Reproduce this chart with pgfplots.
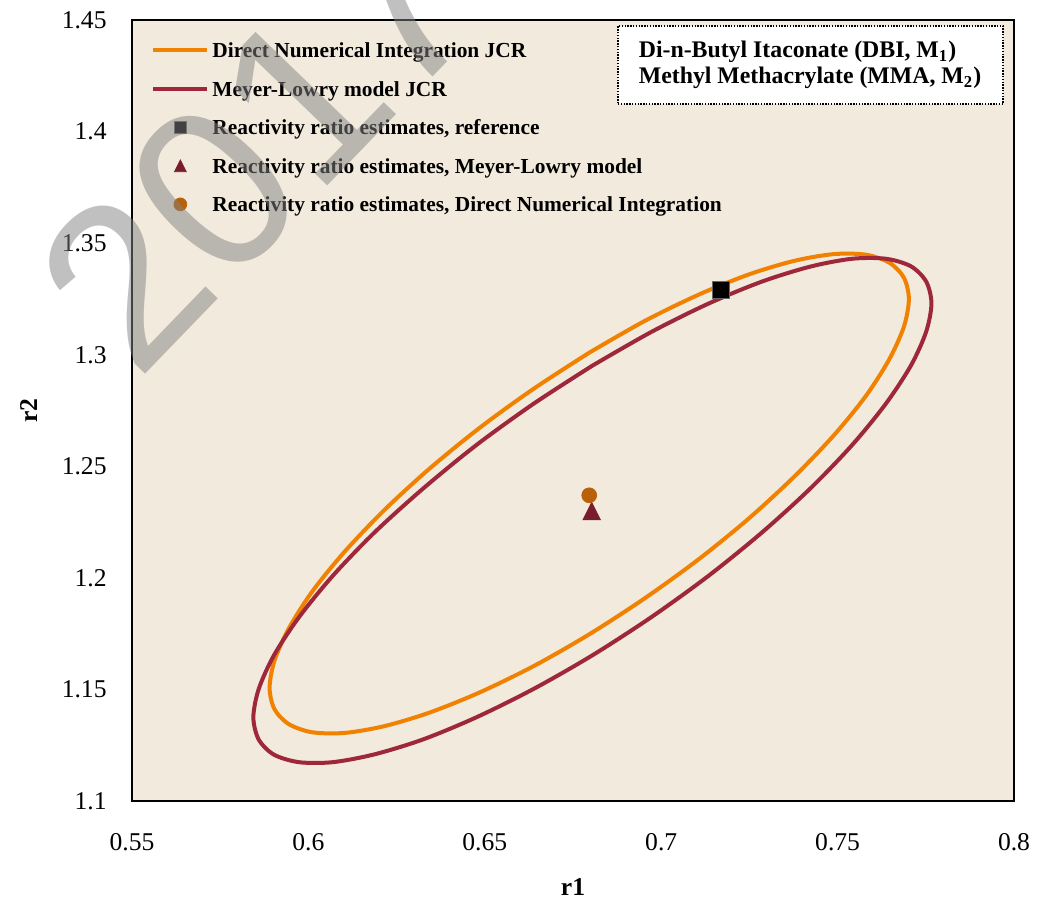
\documentclass[border=0pt]{standalone}
\usepackage{fontspec}
\setmainfont{Liberation Serif}
\newfontfamily\wmfont{Liberation Sans}
\usepackage{pgfplots}
\pgfplotsset{compat=1.18}
\definecolor{bgc}{RGB}{242,234,221}
\definecolor{dni}{RGB}{241,129,0}
\definecolor{mlc}{RGB}{158,40,58}
\definecolor{tric}{RGB}{122,29,42}
\definecolor{circc}{RGB}{184,96,10}
\definecolor{sqleg}{RGB}{64,64,64}
\definecolor{wmc}{RGB}{130,130,130}
\begin{document}
\begin{tikzpicture}
\begin{axis}[
  scale only axis, width=441pt, height=390.5pt,
  xmin=0.55, xmax=0.8, ymin=1.1, ymax=1.45,
  xtick={0.55,0.6,0.65,0.7,0.75,0.8},
  ytick={1.1,1.15,1.2,1.25,1.3,1.35,1.4,1.45},
  scaled ticks=false,
  major tick length=0pt,
  /pgf/number format/assume math mode=true,
  ticklabel style={font=\fontsize{12.8}{15}\selectfont, inner sep=0pt},
  xticklabel style={anchor=north, yshift=-16pt},
  yticklabel style={anchor=east, xshift=-12.5pt},
  axis line style={line width=1pt},
  axis background/.style={fill=bgc},
  xlabel={r1}, ylabel={r2},
  every axis x label/.style={at={(axis description cs:0.5,-0.1216)}, anchor=base,
    font=\fontsize{12.8}{15}\selectfont\bfseries},
  every axis y label/.style={at={(axis description cs:-0.1077,0.5)}, anchor=base, rotate=90,
    font=\fontsize{12.8}{15}\selectfont\bfseries},
  legend style={at={(axis description cs:0.0215,0.9752)}, anchor=north west, draw=none, fill=none,
    inner sep=0pt, row sep=8.65pt, column sep=1.5pt,
    font=\fontsize{10.7}{13}\selectfont\bfseries,
    nodes={inner sep=0pt, text height=9pt, text depth=1.6pt}},
  legend cell align=left,
]
% Direct Numerical Integration JCR
\addplot[dni, line width=2pt, smooth, legend image code/.code={\draw[dni, line width=2pt] (0pt,0pt) -- (27pt,0pt);}] coordinates {
(0.6796,1.3009) (0.6639,1.2848) (0.6486,1.2673) (0.6343,1.2489) (0.6214,1.2302)
(0.6102,1.2116) (0.6011,1.1939) (0.5945,1.1775) (0.5904,1.1630) (0.5890,1.1507)
(0.5904,1.1411) (0.5945,1.1344) (0.6011,1.1308) (0.6102,1.1305) (0.6214,1.1335)
(0.6343,1.1396) (0.6486,1.1487) (0.6639,1.1605) (0.6796,1.1747) (0.6953,1.1908)
(0.7106,1.2083) (0.7249,1.2267) (0.7378,1.2455) (0.7490,1.2640) (0.7581,1.2817)
(0.7647,1.2981) (0.7688,1.3126) (0.7702,1.3249) (0.7688,1.3345) (0.7647,1.3412)
(0.7581,1.3448) (0.7490,1.3451) (0.7378,1.3421) (0.7249,1.3360) (0.7106,1.3269)
(0.6953,1.3151) (0.6796,1.3009)};
\addlegendentry{Direct Numerical Integration JCR}
% Meyer-Lowry model JCR
\addplot[mlc, line width=2pt, smooth, legend image code/.code={\draw[mlc, line width=2pt] (0pt,0pt) -- (27pt,0pt);}] coordinates {
(0.6805,1.2951) (0.6638,1.2780) (0.6476,1.2595) (0.6325,1.2400) (0.6187,1.2203)
(0.6069,1.2009) (0.5973,1.1823) (0.5902,1.1652) (0.5859,1.1501) (0.5844,1.1375)
(0.5859,1.1276) (0.5902,1.1208) (0.5973,1.1174) (0.6069,1.1174) (0.6187,1.1209)
(0.6325,1.1276) (0.6476,1.1375) (0.6638,1.1502) (0.6805,1.1653) (0.6972,1.1824)
(0.7134,1.2009) (0.7286,1.2204) (0.7423,1.2401) (0.7541,1.2595) (0.7637,1.2781)
(0.7708,1.2952) (0.7751,1.3103) (0.7766,1.3230) (0.7751,1.3328) (0.7708,1.3396)
(0.7637,1.3430) (0.7541,1.3430) (0.7423,1.3395) (0.7286,1.3328) (0.7134,1.3229)
(0.6972,1.3102) (0.6805,1.2951)};
\addlegendentry{Meyer-Lowry model JCR}
% reference estimate
\addplot[only marks, mark=square*, mark size=4.25pt, mark options={fill=black, draw=black!60, line width=0.4pt},
  legend image code/.code={\draw[sqleg] plot[only marks, mark=square*, mark size=3.2pt] coordinates {(13.5pt,0pt)};}]
  coordinates {(0.7170,1.3290)};
\addlegendentry{Reactivity ratio estimates, reference}
% Meyer-Lowry estimate
\addplot[only marks, mark=triangle*, mark size=5.8pt, color=tric, mark options={xscale=0.866, yshift=-1.45pt},
  legend image code/.code={\draw[tric] plot[only marks, mark=triangle*, mark size=3.9pt, mark options={xscale=0.866, yshift=-0.97pt}] coordinates {(13.5pt,0pt)};}]
  coordinates {(0.6803,1.2299)};
\addlegendentry{Reactivity ratio estimates, Meyer-Lowry model}
% DNI estimate
\addplot[only marks, mark=*, mark size=3.7pt, color=circc,
  legend image code/.code={\draw[circc] plot[only marks, mark=*, mark size=3.2pt] coordinates {(13.5pt,0pt)};}]
  coordinates {(0.6796,1.2370)};
\addlegendentry{Reactivity ratio estimates, Direct Numerical Integration}
% text box
\node[draw, dash pattern=on 0.7pt off 0.7pt, line width=0.6pt, fill=white, inner sep=0pt,
  minimum width=192.5pt, minimum height=39pt] (box) at (rel axis cs:0.7693,0.9424) {};
\node[anchor=west, align=left, inner sep=0pt, font=\fontsize{11.9}{12.8}\selectfont\bfseries]
  at ([xshift=10.5pt]box.west) {Di-n-Butyl Itaconate (DBI, M\textsubscript{1})\\Methyl Methacrylate (MMA, M\textsubscript{2})};
\end{axis}
% watermark
\begin{scope}[shift={(current axis.south west)}]
\node[overlay, rotate=46, anchor=base west, text=wmc, opacity=0.5, inner sep=0pt,
  font=\wmfont\fontsize{115}{115}\selectfont] at (2.75pt,209pt) {2017};
\end{scope}
\path ([shift={(-66pt,-48.5pt)}]current axis.south west) rectangle ([shift={(17pt,10pt)}]current axis.north east);
\end{tikzpicture}
\end{document}
